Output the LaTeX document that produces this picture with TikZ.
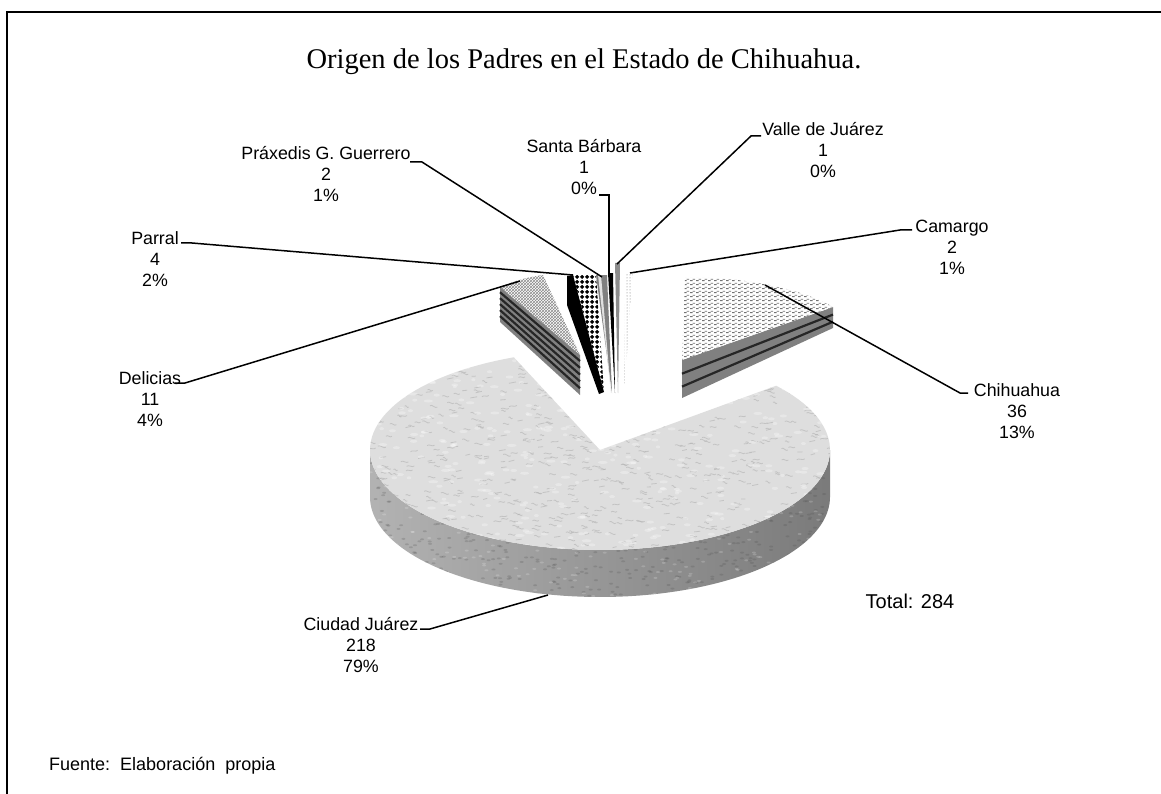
\documentclass[tikz,border=0pt]{standalone}
\usepackage{fontspec}
\setmainfont{Liberation Serif}
\newfontfamily\arialf{Liberation Sans}
\usetikzlibrary{patterns,patterns.meta}
\tikzdeclarepattern{
  name=diamondchk,
  type=uncolored,
  bounding box={(0pt,0pt) and (5pt,5pt)},
  tile size={(5pt,5pt)},
  code={\fill (2.5pt,0pt) -- (5pt,2.5pt) -- (2.5pt,5pt) -- (0pt,2.5pt) -- cycle;}
}
\tikzdeclarepattern{
  name=dashrows,
  type=uncolored,
  bounding box={(0pt,0pt) and (6pt,4pt)},
  tile size={(6pt,4pt)},
  code={\fill (0pt,1pt) rectangle (3pt,2.2pt); \fill (3pt,3pt) rectangle (6pt,4pt);}
}
\begin{document}
\begin{tikzpicture}[x=1pt,y=-1pt,
  lab/.style={font=\arialf\fontsize{17.8}{21}\selectfont, align=center, inner sep=0pt},
  leader/.style={line width=1.5pt, black},
  darkline/.style={line width=2.2pt, black!85}]
\useasboundingbox (0,0) rectangle (1161,794);
\fill[white] (0,0) rectangle (1161,794);
\draw[line width=2.4pt] (7,794) -- (7,12) -- (1161,12);

\node[font=\fontsize{28.5}{32}\selectfont] (title) at (584,62) {Origen de los Padres en el Estado de Chihuahua.};

% ---- main slice: Ciudad Juarez (side)
\shade[left color=black!30, right color=black!52]
  plot[domain=180:360,samples=90] ({600+230*cos(\x)},{450-100*sin(\x)})
  -- plot[domain=360:180,samples=90] ({600+230*cos(\x)},{497-100*sin(\x)}) -- cycle;
\begin{scope}
  \clip plot[domain=180:360,samples=90] ({600+230*cos(\x)},{450-100*sin(\x)})
  -- plot[domain=360:180,samples=90] ({600+230*cos(\x)},{497-100*sin(\x)}) -- cycle;
  \pgfmathsetseed{11}
  \foreach \i in {1,...,700} {
    \pgfmathsetmacro\px{600+230*rand}
    \pgfmathsetmacro\py{520+80*rand}
    \fill[black!70,opacity=0.22] (\px,\py) ellipse (2pt and 1pt);
  }
  \foreach \i in {1,...,300} {
    \pgfmathsetmacro\px{600+230*rand}
    \pgfmathsetmacro\py{520+80*rand}
    \fill[white,opacity=0.18] (\px,\py) ellipse (2pt and 1pt);
  }
\end{scope}
% ---- top face
\fill[black!13] (600,450) -- plot[domain=112:400,samples=120] ({600+230*cos(\x)},{450-100*sin(\x)}) -- cycle;
\begin{scope}
  \clip (600,450) -- plot[domain=112:400,samples=120] ({600+230*cos(\x)},{450-100*sin(\x)}) -- cycle;
  \pgfmathsetseed{5}
  \foreach \i in {1,...,800} {
    \pgfmathsetmacro\px{600+235*rand}
    \pgfmathsetmacro\py{450+105*rand}
    \draw[black!30,line width=0.8pt,opacity=0.6] (\px,\py) .. controls ++(2,-2) and ++(-2,2) .. ++({4+4*rnd},{1.5*rand});
  }
  \foreach \i in {1,...,400} {
    \pgfmathsetmacro\px{600+235*rand}
    \pgfmathsetmacro\py{450+105*rand}
    \fill[white,opacity=0.3] (\px,\py) ellipse ({2+3*rnd} and 1.5);
  }
\end{scope}

% ---- Chihuahua
\fill[black!50] (682,360) -- (833,307) -- (833,328) -- (682,398) -- cycle;
\foreach \f in {0.36,0.7} \draw[darkline] (682,{360+38*\f}) -- (833,{307+21*\f});
\fill[white] (685,278) .. controls (740,276) and (800,288) .. (833,307) -- (682,360) -- cycle;
\fill[pattern=dashrows, pattern color=black!55] (685,278) .. controls (740,276) and (800,288) .. (833,307) -- (682,360) -- cycle;

% ---- Delicias
\fill[black!50] (500,287) -- (580,355) -- (580,395) -- (500,322) -- cycle;
\foreach \f in {0.15,0.32,0.49,0.66,0.83} \draw[darkline] (500,{287+35*\f}) -- (580,{355+40*\f});
\fill[pattern=crosshatch, pattern color=black!45] (500,287) .. controls (514,281) and (528,277) .. (543,275) -- (580,355) -- cycle;

% ---- Parral
\fill[black] (567,276) -- (573,275) -- (604,392) -- (599,394) -- (567,305) -- cycle;
\fill[pattern=diamondchk, pattern color=black] (573,275) -- (596,275) -- (604,392) -- cycle;

% ---- Praxedis, Santa Barbara, Valle, Camargo
\fill[black!50] (596,275) -- (607,275) -- (612,393) -- cycle;
\fill[black!12] (598,275) -- (601,275) -- (611,393) -- cycle;
\fill[black] (608,273) -- (613,273) -- (615,393) -- cycle;
\fill[black!45] (615,263) -- (620,263) -- (618,393) -- cycle;
\fill[pattern=dots, pattern color=black!55] (625,273) -- (633,273) -- (624,393) -- cycle;

% ---- anchor points on slices
\coordinate (pCJ) at (548,595);
\coordinate (pCh) at (765,285);
\coordinate (pCa) at (630,273);
\coordinate (pVa) at (617,264);
\coordinate (pSB) at (609,277);
\coordinate (pPx) at (602,277);
\coordinate (pPa) at (573,275);
\coordinate (pDe) at (520,281);

% ---- labels
\node[lab] (lPx) at (326,174) {Práxedis G. Guerrero\\2\\1\%};
\node[lab] (lSB) at (584,167) {Santa Bárbara\\1\\0\%};
\node[lab] (lVa) at (823,150) {Valle de Juárez\\1\\0\%};
\node[lab] (lCa) at (952,247) {Camargo\\2\\1\%};
\node[lab] (lPa) at (155,259) {Parral\\4\\2\%};
\node[lab] (lDe) at (150,399) {Delicias\\11\\4\%};
\node[lab] (lCh) at (1017,411) {Chihuahua\\36\\13\%};
\node[lab] (lCJ) at (361,645) {Ciudad Juárez\\218\\79\%};
\node[font=\arialf\fontsize{20}{24}\selectfont, inner sep=0pt] (total) at (910,601) {Total: 284};
\node[font=\arialf\fontsize{18}{22}\selectfont, anchor=west, inner sep=0pt] (fuente) at (49,766) {Fuente:\ \ Elaboración\ \ propia};

% ---- leaders
\coordinate (sPx) at (410,162);
\coordinate (sSB) at (599,195);
\coordinate (sVa) at (761,136);
\coordinate (sCa) at (912,230);
\coordinate (sPa) at (181,243);
\coordinate (sDe) at (175,383);
\coordinate (sCh) at (968,393);
\coordinate (sCJ) at (420,629);
\draw[leader] (sPx) -- ++(12,0) -- (pPx);
\draw[leader] (sSB) -- ++(10,0) -- (pSB);
\draw[leader] (sVa) -- ++(-10,0) -- (pVa);
\draw[leader] (sCa) -- ++(-12,0) -- (pCa);
\draw[leader] (sPa) -- ++(11,0) -- (pPa);
\draw[leader] (sDe) -- ++(10,0) -- (pDe);
\draw[leader] (sCh) -- ++(-8,0) -- (pCh);
\draw[leader] (sCJ) -- ++(10,0) -- (pCJ);
\end{tikzpicture}
\end{document}
